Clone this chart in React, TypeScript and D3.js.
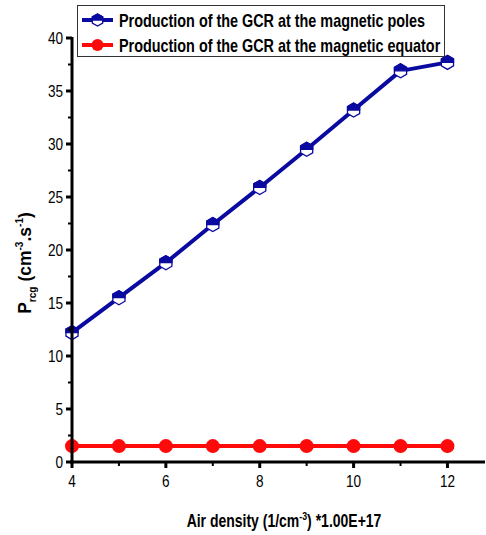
import React from "react";
import * as d3 from "d3";

const densities = [4, 5, 6, 7, 8, 9, 10, 11, 12];
const polesValues = [12.2, 15.5, 18.8, 22.4, 25.9, 29.5, 33.2, 36.9, 37.7];
const equatorValues = [1.5, 1.5, 1.5, 1.5, 1.5, 1.5, 1.5, 1.5, 1.5];
const xTicks = [4, 6, 8, 10, 12];
const xMinorTicks = [5, 7, 9, 11];
const yTicks = [0, 5, 10, 15, 20, 25, 30, 35, 40];
const yMinorTicks = [2.5, 7.5, 12.5, 17.5, 22.5, 27.5, 32.5, 37.5];
const seriesNames = [
  "Production of the GCR at the magnetic poles",
  "Production of the GCR at the magnetic equator",
];

const BLUE = "#0a0aa0";
const RED = "#ff0a0a";
const FONT = "'Liberation Sans Narrow', 'Arial Narrow', 'Liberation Sans', Arial, sans-serif";
const SX = 0.8;

function HalfHex({ cx, cy, r }: { cx: number; cy: number; r: number }) {
  const pts = d3.range(6).map((i) => {
    const a = (Math.PI / 3) * i - Math.PI / 2;
    return [cx + r * Math.cos(a), cy + r * Math.sin(a)];
  });
  const all = pts.map((p) => p.join(",")).join(" ");
  const top = [
    [cx + r * Math.cos(-Math.PI / 6), cy],
    pts[1], pts[0], pts[5],
    [cx - r * Math.cos(-Math.PI / 6), cy],
  ];
  return (
    <g>
      <polygon points={all} fill="white" stroke={BLUE} strokeWidth={1.3} />
      <polygon points={top.map((p) => p.join(",")).join(" ")} fill={BLUE} stroke={BLUE} strokeWidth={1.3} />
    </g>
  );
}

function NText({ x, y, anchor, size, bold, children }: any) {
  return (
    <g transform={`translate(${x},${y}) scale(${SX},1)`}>
      <text x={0} y={0} fontSize={size} fontWeight={bold ? "bold" : "normal"} textAnchor={anchor || "start"}>
        {children}
      </text>
    </g>
  );
}

export default function App() {
  const W = 486, H = 535;
  const x = d3.scaleLinear().domain([4, 12.8]).range([72, 485]);
  const y = d3.scaleLinear().domain([0, 40]).range([462, 38]);
  const line = d3.line<number>().x((_, i) => x(densities[i])).y((v) => y(v));

  return (
    <svg width={W} height={H} style={{ position: "absolute", left: 0, top: 0 }} fontFamily={FONT}>
      <rect width={W} height={H} fill="white" />
      {/* series */}
      <path d={line(polesValues) || ""} fill="none" stroke={BLUE} strokeWidth={4} strokeLinejoin="round" />
      {polesValues.map((v, i) => (
        <HalfHex key={i} cx={x(densities[i])} cy={y(v)} r={7} />
      ))}
      <path d={line(equatorValues) || ""} fill="none" stroke={RED} strokeWidth={4} />
      {equatorValues.map((v, i) => (
        <circle key={i} cx={x(densities[i])} cy={y(v)} r={7} fill={RED} />
      ))}
      {/* axes */}
      <line x1={x(4)} x2={x(4)} y1={y(40) - 1} y2={y(0) + 1.5} stroke="black" strokeWidth={3} />
      <line x1={x(4) - 1.5} x2={485} y1={y(0)} y2={y(0)} stroke="black" strokeWidth={3} />
      {yTicks.map((t) => (
        <g key={t}>
          <line x1={x(4) - 6} x2={x(4)} y1={y(t)} y2={y(t)} stroke="black" strokeWidth={3} />
          <NText x={x(4) - 9} y={y(t) + 6} size={17} anchor="end">{t}</NText>
        </g>
      ))}
      {yMinorTicks.map((t) => (
        <line key={t} x1={x(4) - 4} x2={x(4)} y1={y(t)} y2={y(t)} stroke="black" strokeWidth={2} />
      ))}
      {xTicks.map((t) => (
        <g key={t}>
          <line x1={x(t)} x2={x(t)} y1={y(0)} y2={y(0) + 6} stroke="black" strokeWidth={3} />
          <NText x={x(t)} y={y(0) + 25} size={17} anchor="middle">{t}</NText>
        </g>
      ))}
      {xMinorTicks.map((t) => (
        <line key={t} x1={x(t)} x2={x(t)} y1={y(0)} y2={y(0) + 4} stroke="black" strokeWidth={2} />
      ))}
      {/* axis titles */}
      <NText x={284} y={527} size={17.5} bold anchor="middle">
        Air density (1/cm<tspan dy={-7} fontSize={11}>-3</tspan><tspan dy={7}>) *1.00E+17</tspan>
      </NText>
      <g transform="translate(31,263) rotate(-90) scale(0.92,1)">
        <text x={0} y={0} fontSize={19} fontWeight="bold" textAnchor="middle">
          P<tspan dy={5} fontSize={11}>rcg</tspan><tspan dy={-5}> (cm</tspan><tspan dy={-8} fontSize={11}>-3</tspan><tspan dy={8}>.s</tspan><tspan dy={-8} fontSize={11}>-1</tspan><tspan dy={8}>)</tspan>
        </text>
      </g>
      {/* legend */}
      <rect x={77.5} y={5.5} width={367} height={51} fill="white" stroke="#333" strokeWidth={1} />
      {seriesNames.map((name, i) => {
        const ly = 20 + i * 25;
        return (
          <g key={name}>
            <line x1={82} x2={113} y1={ly} y2={ly} stroke={i === 0 ? BLUE : RED} strokeWidth={4} />
            {i === 0 ? <HalfHex cx={97.5} cy={ly} r={6} /> : <circle cx={97.5} cy={ly} r={6} fill={RED} />}
            <NText x={119} y={ly + 7} size={18} bold>{name}</NText>
          </g>
        );
      })}
    </svg>
  );
}
